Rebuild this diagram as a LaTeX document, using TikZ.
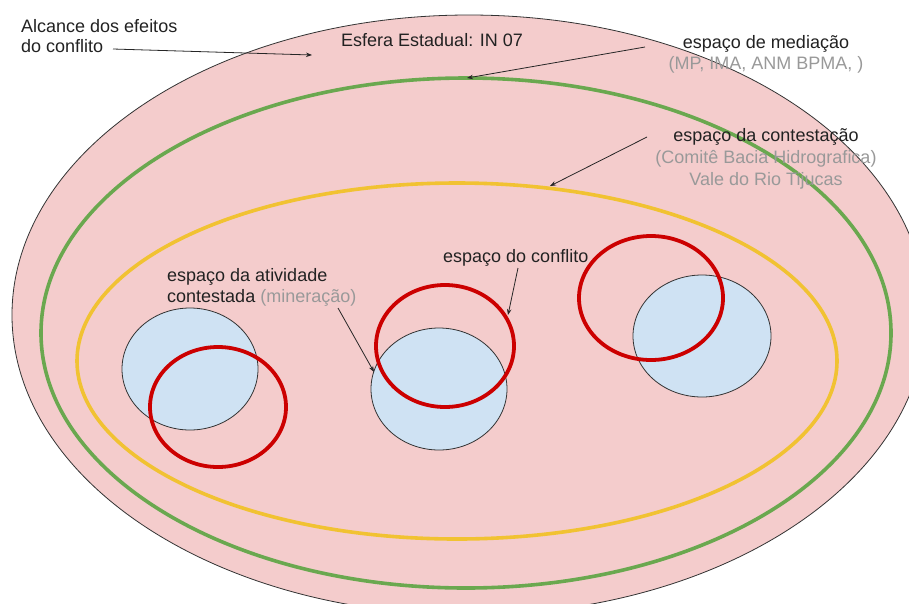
\documentclass[tikz,border=0pt]{standalone}
\usepackage{fontspec}
\setmainfont{Liberation Sans}
\usetikzlibrary{arrows.meta}
\definecolor{zonefill}{HTML}{F4CCCC}
\definecolor{minefill}{HTML}{CFE2F3}
\definecolor{medgreen}{HTML}{6AA84F}
\definecolor{contyellow}{HTML}{F1C232}
\definecolor{conflred}{HTML}{CC0000}
\definecolor{note}{HTML}{999999}
\definecolor{ink}{HTML}{222222}
\begin{document}
\begin{tikzpicture}[x=1pt,y=-1pt,
  lbl/.style={inner sep=0pt,text=ink,font=\fontsize{18}{21.5}\selectfont},
  ring/.style={line width=3.6pt},
  pointer/.style={draw=black!85,line width=0.8pt,-{Stealth[length=6pt,width=4.5pt]}},
  mine/.style={fill=minefill,draw=black!80,line width=0.8pt},
  clash/.style={draw=conflred,line width=3.8pt}]
\useasboundingbox (0,0) rectangle (909,603);
\fill[white] (0,0) rectangle (909,603);
\clip (0,0) rectangle (909,603);

% state sphere
\draw[fill=zonefill,draw=black!80,line width=0.8pt] (469,315) ellipse [x radius=457pt,y radius=300pt];
% mediation and contestation spaces
\draw[ring,draw=medgreen] (466,333) ellipse [x radius=425pt,y radius=255pt];
\draw[ring,draw=contyellow] (457,361) ellipse [x radius=380pt,y radius=178pt];

% contested activities
\draw[mine] (190,369) ellipse [x radius=68pt,y radius=61pt];
\draw[mine] (439,389) ellipse [x radius=68pt,y radius=61pt];
\draw[mine] (702,336) ellipse [x radius=69pt,y radius=61pt];

% conflict spaces
\draw[clash] (218,407) ellipse [x radius=68pt,y radius=60pt];
\draw[clash] (445,346) ellipse [x radius=69pt,y radius=61pt];
\draw[clash] (651,298) ellipse [x radius=72pt,y radius=62pt];

% labels
\node[lbl,anchor=base west] (alc1) at (21,32) {Alcance dos efeitos};
\node[lbl,anchor=base west] (alc2) at (21,52) {do conflito};
\node[lbl,anchor=base west] (esf) at (341,46) {Esfera Estadual: IN 07};
\node[lbl,anchor=base] (med1) at (766,48) {espaço de mediação};
\node[lbl,anchor=base,text=note] (med2) at (766,69) {(MP, IMA, ANM BPMA, )};
\node[lbl,anchor=base] (con1) at (766,141) {espaço da contestação};
\node[lbl,anchor=base,text=note] (con2) at (766,163) {(Comitê Bacia Hidrografica)};
\node[lbl,anchor=base,text=note] (con3) at (766,185) {Vale do Rio Tijucas};
\node[lbl,anchor=base west] (cfl) at (443,262) {espaço do conflito};
\node[lbl,anchor=base west] (atv1) at (167,281) {espaço da atividade};
\node[lbl,anchor=base west] (atv2) at (167,302) {contestada \textcolor{note}{(mineração)}};

% pointer ends
\coordinate (alcT) at (113,49);
\coordinate (alcH) at (312,55);
\coordinate (medT) at (645,47);
\coordinate (medH) at (467,78);
\coordinate (conT) at (647,137);
\coordinate (conH) at (550,186);
\coordinate (cflT) at (518,268);
\coordinate (cflH) at (508,315);
\coordinate (atvT) at (338,308);
\coordinate (atvH) at (374,372);

\draw[pointer] (alcT) -- (alcH);
\draw[pointer] (medT) -- (medH);
\draw[pointer] (conT) -- (conH);
\draw[pointer] (cflT) -- (cflH);
\draw[pointer] (atvT) -- (atvH);
\end{tikzpicture}
\end{document}
